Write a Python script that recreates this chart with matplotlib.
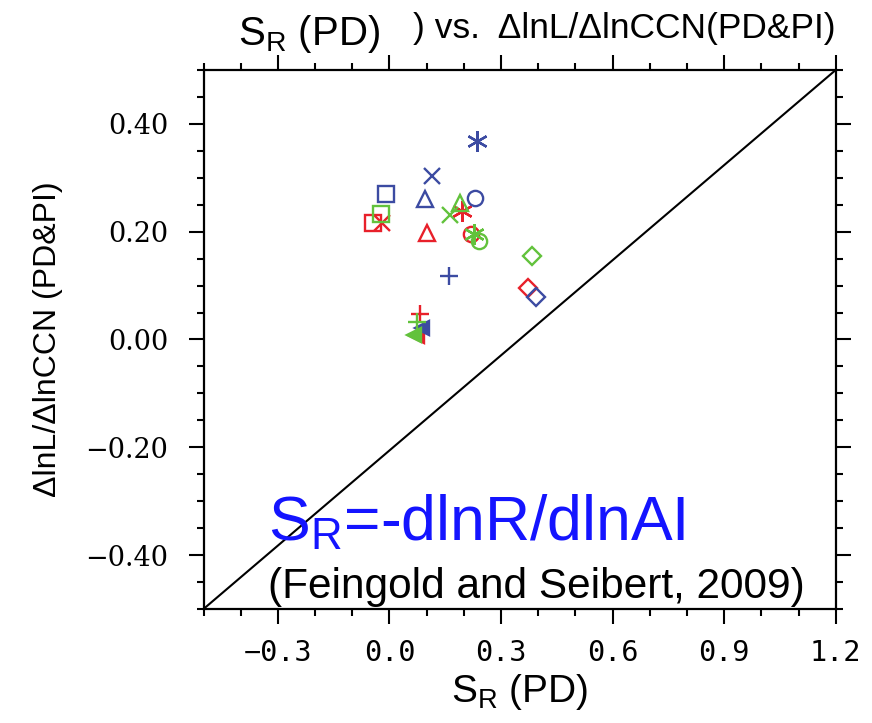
import matplotlib
matplotlib.use("Agg")
import matplotlib.pyplot as plt
from matplotlib.ticker import MultipleLocator, FixedLocator

plt.rcParams['font.family'] = ['Liberation Sans', 'DejaVu Sans']
plt.rcParams['mathtext.fontset'] = 'custom'
plt.rcParams['mathtext.rm'] = 'Liberation Sans'
plt.rcParams['mathtext.it'] = 'Liberation Sans'

# ---- data ----
markers = ['s', 'x', '^', (6, 2, 0), 'o', '+', 'D', '<']
red_x = [-0.044, -0.021, 0.102, 0.194, 0.218, 0.082, 0.373, 0.075]
red_y = [0.216, 0.217, 0.197, 0.239, 0.195, 0.047, 0.096, 0.006]
blue_x = [-0.010, 0.115, 0.096, 0.235, 0.230, 0.159, 0.394, 0.087]
blue_y = [0.270, 0.303, 0.261, 0.369, 0.263, 0.118, 0.078, 0.022]
green_x = [-0.023, 0.163, 0.190, 0.227, 0.242, 0.075, 0.384, 0.066]
green_y = [0.232, 0.231, 0.254, 0.195, 0.183, 0.032, 0.154, 0.008]
series_colors = ['#e8202a', '#3c4ba2', '#62c23c']

x_range = [-0.5, 1.2]
y_range = [-0.5, 0.5]
x_ticks = [-0.3, 0.0, 0.3, 0.6, 0.9, 1.2]
x_ticklabels = ['\u22120.3', '0.0', '0.3', '0.6', '0.9', '1.2']
y_ticks = [-0.4, -0.2, 0.0, 0.2, 0.4]
y_ticklabels = ['\u22120.40', '\u22120.20', '0.00', '0.20', '0.40']

fig = plt.figure(figsize=(8.72, 7.23), dpi=100)
ax = fig.add_axes([0.2334, 0.1577, 0.7250, 0.7455])

# diagonal reference line (corner to corner)
ax.plot(x_range, y_range, color='black', lw=1.5, zorder=1)

sizes = {'s': 11, 'x': 12, '^': 11, 'o': 11, '+': 12.5, 'D': 9, '<': 10}
for xs, ys, c in [(red_x, red_y, series_colors[0]),
                  (blue_x, blue_y, series_colors[1]),
                  (green_x, green_y, series_colors[2])]:
    for xv, yv, m in zip(xs, ys, markers):
        ms = sizes.get(m, 12) if isinstance(m, str) else 15
        filled = (m == '<')
        ax.plot([xv], [yv], linestyle='none', marker=m, ms=ms,
                mew=1.7, mec=c, mfc=c if filled else 'none', zorder=3)

ax.set_xlim(x_range)
ax.set_ylim(y_range)

ax.xaxis.set_major_locator(FixedLocator(x_ticks))
ax.xaxis.set_minor_locator(MultipleLocator(0.1))
ax.yaxis.set_major_locator(FixedLocator(y_ticks))
ax.yaxis.set_minor_locator(MultipleLocator(0.05))
ax.set_xticklabels(x_ticklabels, fontfamily='DejaVu Sans Mono', fontsize=20.5)
ax.set_yticklabels(y_ticklabels, fontfamily='DejaVu Serif', fontsize=19.5)

ax.tick_params(which='both', direction='out', top=True, right=True,
               width=1.5, colors='black')
ax.tick_params(which='major', length=10.5)
ax.tick_params(which='minor', length=5)
ax.tick_params(axis='x', which='major', pad=11)
ax.tick_params(axis='y', which='major', pad=15)
for s in ax.spines.values():
    s.set_linewidth(1.6)

ax.set_xlabel(r'S$_\mathrm{R}$ (PD)', fontsize=28, labelpad=4)
ax.set_ylabel('\u0394lnL/\u0394lnCCN (PD&PI)', fontsize=23, labelpad=16)

# title pieces
fig.text(0.273, 0.938, r'S$_\mathrm{R}$ (PD)', fontsize=29, ha='left', va='baseline')
fig.text(0.4736, 0.947, ') vs.  \u0394lnL/\u0394lnCCN(PD&PI)', fontsize=25.5,
         ha='left', va='baseline')

ax.text(0.102, 0.128, r'S$_\mathrm{R}$=-dlnR/dlnAI', transform=ax.transAxes,
        fontsize=45, color='#1414ff', ha='left', va='baseline')
ax.text(0.102, 0.020, '(Feingold and Seibert, 2009)', transform=ax.transAxes,
        fontsize=30.5, color='black', ha='left', va='baseline')

fig.savefig('out.png', dpi=100)
